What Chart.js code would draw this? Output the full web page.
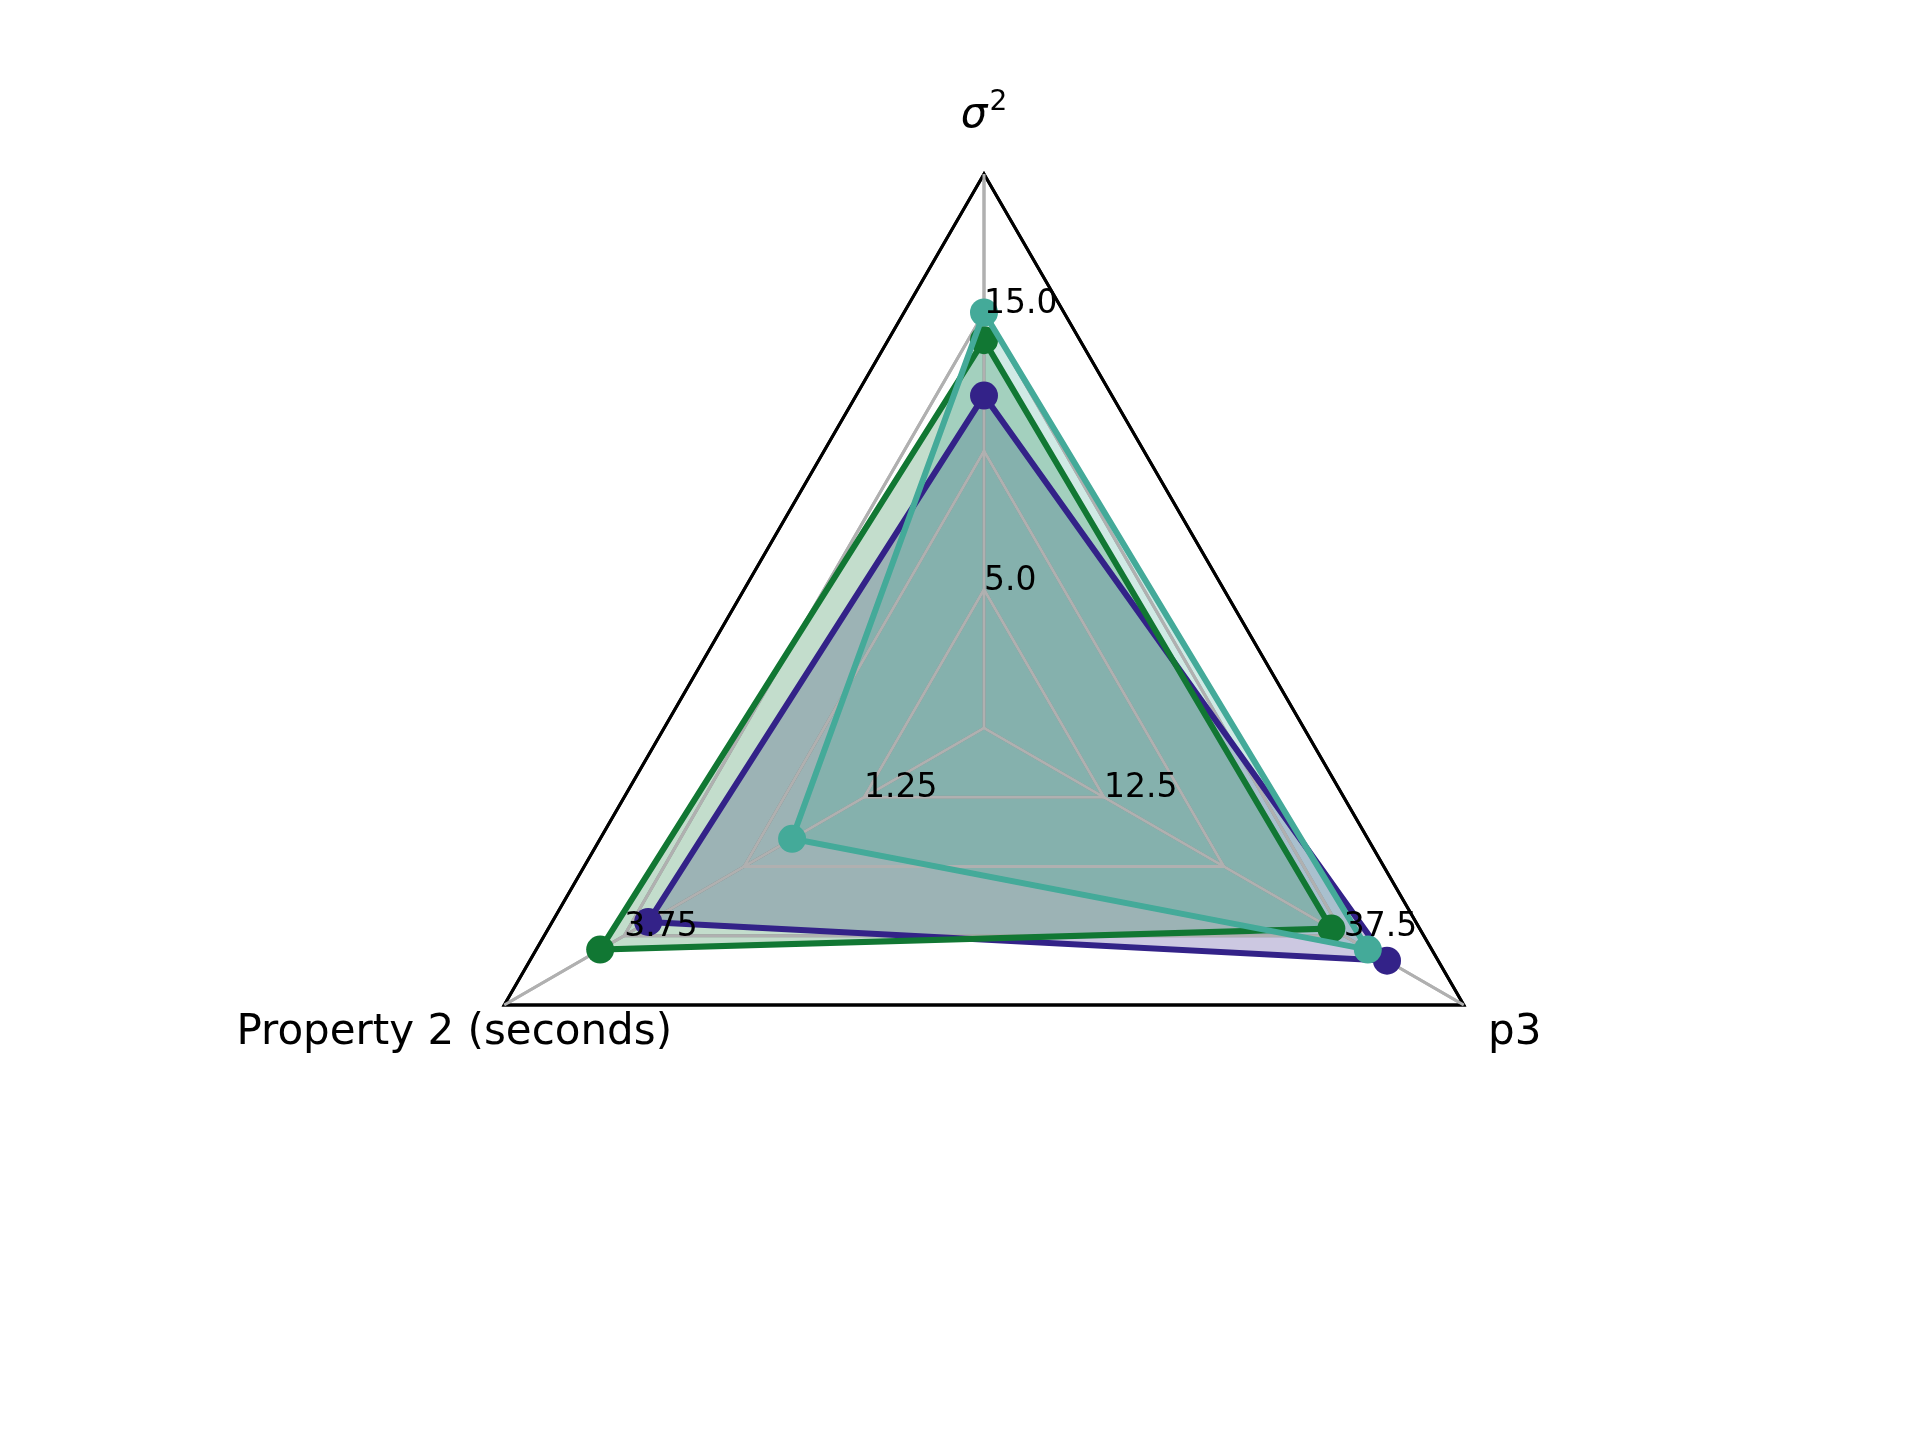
<!DOCTYPE html>
<html>
<head>
<meta charset="utf-8">
<script src="https://cdn.jsdelivr.net/npm/chart.js@4.4.1/dist/chart.umd.min.js"></script>
<style>
  html, body { margin: 0; padding: 0; background: #fff; }
  canvas { display: block; }
</style>
</head>
<body>
<canvas id="radarChart" width="1920" height="1440"></canvas>
<script>
// axes listed clockwise from the top, since Chart.js walks the radar clockwise
const axisLabels = ['σ²', 'p3', 'Property 2 (seconds)'];
const axisMax = [20, 50, 5];
const tickFractions = [0.25, 0.75];
const tickLabels = [['5.0', '15.0'], ['12.5', '37.5'], ['1.25', '3.75']];

const seriesNames = ['Series A', 'Series B', 'Series C'];
const seriesA = [12.0, 42.0, 3.5];
const seriesB = [14.0, 36.2, 4.0];
const seriesC = [15.0, 40.0, 2.0];
const seriesColors = ['#332288', '#117733', '#44AA99'];

const GRID_GRAY = '#b0b0b0';

function withAlpha(hex, a) {
    const n = parseInt(hex.slice(1), 16);
    return `rgba(${(n >> 16) & 255}, ${(n >> 8) & 255}, ${n & 255}, ${a})`;
}

// each axis has its own range, so plot fractions of the axis maximum
const normalise = vals => vals.map((v, i) => v / axisMax[i]);

const datasets = [seriesA, seriesB, seriesC].map((vals, i) => ({
    label: seriesNames[i],
    data: normalise(vals),
    borderColor: seriesColors[i],
    backgroundColor: withAlpha(seriesColors[i], 0.25),
    pointBackgroundColor: seriesColors[i],
    pointBorderWidth: 0,
    pointRadius: 14,
    borderWidth: 6,
    fill: 'origin',
    order: 3 - i   // later series on top, like matplotlib
}));

const overlay = {
    id: 'overlay',
    beforeDatasetsDraw(chart) {
        // grid goes over the fills but under the lines
        chart.scales.r.drawGrid();
    },
    afterDatasetsDraw(chart) {
        const r = chart.scales.r;
        const ctx = chart.ctx;
        ctx.save();
        ctx.fillStyle = '#000';

        ctx.font = '33px "DejaVu Sans"';
        ctx.textAlign = 'left';
        ctx.textBaseline = 'alphabetic';
        axisLabels.forEach((_, i) => {
            tickFractions.forEach((f, j) => {
                const p = r.getPointPositionForValue(i, f);
                ctx.fillText(tickLabels[i][j], p.x, p.y);
            });
        });

        // axis names at 1.1 x radius
        axisLabels.forEach((name, i) => {
            const p = r.getPointPositionForValue(i, 1.1);
            if (name === 'σ²') {
                ctx.textAlign = 'left';
                ctx.textBaseline = 'alphabetic';
                ctx.font = 'italic 42px "DejaVu Sans"';
                const w1 = ctx.measureText('σ').width;
                ctx.font = '28px "DejaVu Sans"';
                const w2 = ctx.measureText('2').width;
                const x0 = p.x - (w1 + w2 + 2) / 2;
                ctx.font = 'italic 42px "DejaVu Sans"';
                ctx.fillText('σ', x0, p.y + 8);
                ctx.font = '28px "DejaVu Sans"';
                ctx.fillText('2', x0 + w1 + 2, p.y - 9);
            } else {
                ctx.font = '42px "DejaVu Sans"';
                ctx.textAlign = 'center';
                ctx.textBaseline = 'middle';
                ctx.fillText(name, p.x + (i === 1 ? 3 : -2), p.y);
            }
        });
        ctx.restore();
    }
};

new Chart(document.getElementById('radarChart'), {
    type: 'radar',
    data: { labels: axisLabels, datasets: datasets },
    options: {
        responsive: false,
        animation: false,
        layout: { padding: { left: 430, right: 382, top: 174, bottom: 158 } },
        elements: { line: { tension: 0 } },
        plugins: {
            legend: { display: false },
            tooltip: { enabled: false },
            filler: { drawTime: 'beforeDatasetsDraw' }
        },
        scales: {
            r: {
                min: 0,
                max: 1,
                ticks: { display: false, stepSize: 0.25 },
                pointLabels: { display: false },
                grid: {
                    color: ctx => ctx.index === 4 ? '#000' : GRID_GRAY,
                    lineWidth: 3
                },
                angleLines: { color: GRID_GRAY, lineWidth: 3 }
            }
        }
    },
    plugins: [overlay]
});
</script>
</body>
</html>
